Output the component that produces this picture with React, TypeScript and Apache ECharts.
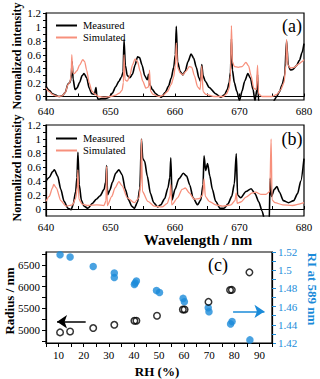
import React, { useEffect, useRef } from 'react';
import * as echarts from 'echarts';

// ---------- data ----------
const intensityLabels = [0, 0.2, 0.4, 0.6, 0.8, 1, 1.2];
const intensityTicks = [0, 0.1, 0.2, 0.3, 0.4, 0.5, 0.6, 0.7, 0.8, 0.9, 1, 1.1, 1.2];
const radiusLabels = [5000, 5500, 6000, 6500];
const radiusTicks = [4750, 5000, 5250, 5500, 5750, 6000, 6250, 6500, 6750];
const riLabels = [1.42, 1.44, 1.46, 1.48, 1.5, 1.52];
const riTicks = [1.42, 1.43, 1.44, 1.45, 1.46, 1.47, 1.48, 1.49, 1.5, 1.51, 1.52];

const measuredA: number[][] = [
  [640, 0.15], [640.5, 0.09], [641, 0.04], [641.5, 0.02], [642, 0.0], [642.5, 0.01], [643, 0.06],
  [643.4, 0.18], [643.7, 0.2], [643.9, 0.26], [644.05, 0.5], [644.2, 0.25], [644.5, 0.1], [644.8, 0.12],
  [645.2, 0.2], [645.6, 0.3], [645.9, 0.33], [646.3, 0.27], [646.7, 0.12], [647.1, 0.04], [647.5, 0.03],
  [647.75, 0.13], [647.9, 0.0], [648.1, -0.04], [648.6, -0.03], [649.2, -0.03], [649.8, -0.01], [650.3, 0.05],
  [650.8, 0.14], [651.3, 0.22], [651.7, 0.28], [651.95, 0.35], [652.1, 0.82], [652.3, 0.45], [652.6, 0.3],
  [653.0, 0.27], [653.4, 0.32], [653.8, 0.45], [654.2, 0.57], [654.5, 0.56], [654.9, 0.45], [655.3, 0.3],
  [655.7, 0.24], [655.9, 0.32], [656.1, 0.17], [656.5, 0.1], [657, 0.04], [657.5, 0.01], [657.9, -0.01],
  [658.5, 0.06], [659.0, 0.15], [659.4, 0.26], [659.8, 0.42], [660.05, 0.6], [660.2, 1.01], [660.4, 0.5],
  [660.8, 0.36], [661.2, 0.31], [661.6, 0.37], [662.0, 0.5], [662.5, 0.61], [662.9, 0.55], [663.3, 0.42],
  [663.7, 0.27], [663.95, 0.22], [664.15, 0.46], [664.35, 0.3], [664.7, 0.22], [665.3, 0.13], [666.3, 0.04],
  [667.1, -0.01], [667.7, 0.03], [668.1, 0.1], [668.4, 0.2], [668.6, 0.35], [668.75, 0.83], [668.9, 0.38],
  [669.2, 0.2], [669.6, 0.07], [670.0, -0.06], [670.4, 0.08], [670.8, 0.22], [671.3, 0.33], [671.7, 0.26],
  [672.1, 0.1], [672.4, -0.06], [672.7, 0.1], [672.8, 0.32], [672.95, -0.06], [673.5, -0.15], [674.5, -0.15],
  [675.2, -0.08], [675.7, -0.01], [676.2, 0.07], [676.6, 0.17], [677.0, 0.3], [677.3, 0.8], [677.55, 0.45],
  [677.9, 0.38], [678.3, 0.39], [678.8, 0.44], [679.3, 0.52], [679.7, 0.63], [680, 0.76],
];

const simulatedA: number[][] = [
  [640, 0.12], [640.5, 0.07], [641, 0.03], [641.5, 0.01], [642, 0.0], [642.5, 0.01], [643, 0.06],
  [643.4, 0.17], [643.7, 0.2], [643.9, 0.3], [644.0, 0.6], [644.15, 0.34], [644.4, 0.33], [644.8, 0.37],
  [645.2, 0.45], [645.7, 0.53], [646.0, 0.5], [646.3, 0.38], [646.7, 0.2], [647.1, 0.08], [647.6, 0.03],
  [648.2, 0.0], [649, -0.01], [650, 0.0], [650.8, 0.02], [651.4, 0.05], [651.8, 0.09], [652.0, 0.2],
  [652.1, 0.6], [652.25, 0.24], [652.6, 0.22], [653.0, 0.3], [653.4, 0.45], [653.8, 0.54], [654.2, 0.5],
  [654.6, 0.36], [655.0, 0.22], [655.5, 0.12], [655.9, 0.14], [656.05, 0.38], [656.2, 0.08], [656.6, 0.03],
  [657.5, 0.0], [658.2, 0.02], [658.8, 0.07], [659.4, 0.17], [659.8, 0.28], [660.05, 0.45], [660.2, 0.77],
  [660.4, 0.42], [660.8, 0.34], [661.2, 0.31], [661.7, 0.36], [662.2, 0.43], [662.6, 0.42], [663.0, 0.3],
  [663.5, 0.14], [663.9, 0.1], [664.15, 0.44], [664.35, 0.07], [664.8, 0.03], [666, 0.0], [667.5, 0.0],
  [668.0, 0.04], [668.4, 0.12], [668.6, 0.3], [668.75, 1.02], [668.9, 0.5], [669.2, 0.43], [669.8, 0.42],
  [670.4, 0.43], [671.0, 0.49], [671.4, 0.44], [671.8, 0.3], [672.2, 0.12], [672.6, 0.1], [672.8, 0.45],
  [672.95, 0.04], [673.5, 0.0], [675, 0.0], [675.8, 0.03], [676.4, 0.1], [676.9, 0.2], [677.2, 0.45],
  [677.3, 0.82], [677.5, 0.45], [677.9, 0.41], [678.5, 0.42], [679.2, 0.47], [679.7, 0.5], [680, 0.53],
];

const measuredB: number[][] = [
  [640, 0.4], [640.5, 0.45], [641.0, 0.53], [641.3, 0.56], [641.8, 0.47], [642.3, 0.28], [642.8, 0.11],
  [643.4, 0.01], [643.9, -0.01], [644.2, 0.06], [644.6, 0.25], [644.8, 0.45], [644.95, 0.81], [645.15, 0.35],
  [645.5, 0.12], [645.9, 0.04], [646.5, 0.01], [647.2, 0.08], [647.8, 0.14], [648.4, 0.19], [649.0, 0.28],
  [649.25, 0.38], [649.4, 0.62], [649.55, 0.2], [649.9, 0.27], [650.3, 0.38], [650.8, 0.51], [651.3, 0.56],
  [651.8, 0.49], [652.3, 0.28], [652.8, 0.13], [653.3, 0.04], [653.7, 0.01], [654.2, 0.1], [654.55, 0.3],
  [654.8, 1.0], [655.0, 0.72], [655.3, 0.68], [655.7, 0.47], [656.2, 0.22], [656.7, 0.09], [657.3, 0.03],
  [657.8, 0.06], [658.4, 0.15], [658.9, 0.3], [659.2, 0.45], [659.35, 0.73], [659.55, 0.13], [660.0, 0.28],
  [660.6, 0.43], [661.3, 0.51], [661.8, 0.47], [662.3, 0.34], [662.8, 0.16], [663.5, 0.06], [664.0, 0.13],
  [664.35, 0.35], [664.5, 0.76], [664.75, 0.55], [665.05, 0.65], [665.4, 0.47], [665.8, 0.28], [666.3, 0.11],
  [667.0, 0.01], [667.6, 0.01], [668.2, 0.07], [668.8, 0.18], [669.2, 0.36], [669.5, 0.79], [669.7, 0.2],
  [670.2, 0.16], [671.0, 0.25], [671.8, 0.29], [672.4, 0.22], [673.0, 0.1], [673.5, -0.03], [674.0, -0.2],
  [674.6, -0.2], [674.75, 0.44], [674.95, 0.18], [675.4, 0.28], [675.8, 0.32], [676.2, 0.24], [676.8, 0.12],
  [677.6, 0.09], [678.4, 0.12], [679.0, 0.22], [679.5, 0.4], [680, 0.72],
];

const simulatedB: number[][] = [
  [640, 0.11], [640.5, 0.18], [641.0, 0.3], [641.2, 0.35], [641.6, 0.3], [642.3, 0.12], [643.1, 0.04],
  [644.1, 0.06], [644.6, 0.15], [644.85, 0.3], [644.95, 0.56], [645.1, 0.14], [645.6, 0.07], [646.5, 0.05],
  [647.9, 0.06], [649.0, 0.05], [649.3, 0.12], [649.4, 0.61], [649.5, 0.05], [650.2, 0.18], [650.7, 0.3],
  [651.3, 0.39], [651.8, 0.33], [652.6, 0.16], [653.7, 0.09], [654.4, 0.16], [654.7, 0.35], [654.8, 1.0],
  [654.95, 0.25], [655.8, 0.11], [656.8, 0.04], [658.0, 0.03], [658.8, 0.08], [659.2, 0.18], [659.35, 0.35],
  [659.5, 0.06], [660.4, 0.16], [661.1, 0.28], [661.6, 0.3], [662.2, 0.23], [663.0, 0.14], [663.8, 0.15],
  [664.3, 0.2], [664.5, 0.43], [664.7, 0.18], [665.3, 0.11], [666.3, 0.06], [667.4, 0.04], [668.7, 0.06],
  [669.3, 0.12], [669.5, 0.23], [669.65, 0.08], [670.2, 0.1], [671.0, 0.17], [672.0, 0.23], [672.5, 0.24],
  [673.3, 0.21], [674.1, 0.21], [674.7, 0.25], [674.9, 1.0], [675.05, 0.13], [675.5, 0.09], [676.7, 0.06],
  [678.2, 0.05], [680, 0.09],
];

const rhRadius = [10.6, 14.6, 23.8, 32.2, 40.2, 41, 49.2, 59.5, 60.2, 69.7, 78.3, 79, 86];
const radius = [4945, 4965, 5045, 5120, 5212, 5215, 5328, 5472, 5475, 5649, 5922, 5926, 6330];
const rhRI = [10.6, 14.6, 23.8, 32.2, 32.2, 40.2, 40.5, 41, 49, 50.2, 59.6, 60.1, 69.6, 69.9, 78.5, 79.1, 86.2];
const ri = [1.517, 1.5145, 1.504, 1.497, 1.492, 1.4842, 1.486, 1.4882, 1.4776, 1.4754, 1.469, 1.4654,
  1.4588, 1.4543, 1.441, 1.4436, 1.4234];

// ---------- style ----------
const FONT = 'Liberation Serif';
const RED = '#F7907C';
const BLUE = '#1B8BD9';

function wavelengthAxis(gridIndex: number) {
  return {
    type: 'value', gridIndex, min: 640, max: 680, interval: 5,
    axisLine: { show: true, lineStyle: { color: '#000', width: 1.2 } },
    axisTick: { show: true, inside: true, length: 3, lineStyle: { color: '#000' } },
    axisLabel: {
      fontFamily: FONT, fontSize: 11, color: '#000', margin: 5,
      formatter: (v: number) => (Math.round(v) % 10 === 0 ? String(Math.round(v)) : ''),
    },
    splitLine: { show: false },
  };
}

function intensityAxis(gridIndex: number, min: number) {
  return {
    type: 'value', gridIndex, min, max: 1.2,
    axisLine: { show: true, lineStyle: { color: '#000', width: 1.2 } },
    axisTick: { show: true, length: 3, customValues: intensityTicks, lineStyle: { color: '#000' } },
    axisLabel: {
      fontFamily: FONT, fontSize: 11, color: '#000', margin: 5, customValues: intensityLabels,
      formatter: (v: number) => String(+v.toFixed(2)),
    },
    splitLine: { show: false },
  };
}

const gridStyle = { show: true, borderColor: '#000', borderWidth: 1.2, backgroundColor: 'transparent' };

function lineSeries(name: string, data: number[][], idx: number, color: string, width: number) {
  return {
    name, type: 'line', data, xAxisIndex: idx, yAxisIndex: idx, showSymbol: false, symbol: 'none',
    smooth: 0.25, smoothMonotone: 'x', clip: true,
    lineStyle: { color, width }, itemStyle: { color },
  };
}

function legendAt(top: number) {
  return {
    data: ['Measured', 'Simulated'], orient: 'vertical', left: 51, top, itemWidth: 21, itemHeight: 2,
    itemGap: 1, icon: 'rect', selectedMode: false,
    textStyle: { fontFamily: FONT, fontSize: 10.5, color: '#000', padding: [0, 0, 0, 1] },
  };
}

function title(text: string, x: number, y: number, size: number, rotation = 0, color = '#000', weight = 'bold') {
  return {
    type: 'text', x, y, rotation, silent: true,
    style: {
      text, fill: color, fontFamily: FONT, fontSize: size, fontWeight: weight,
      textAlign: 'center', textVerticalAlign: 'middle',
    },
  };
}

export default function App() {
  const ref = useRef<HTMLDivElement>(null);
  useEffect(() => {
    if (!ref.current) return;
    const chart = echarts.init(ref.current, null, { renderer: 'svg' });
    chart.setOption({
      animation: false,
      backgroundColor: '#fff',
      textStyle: { fontFamily: FONT },
      grid: [
        { left: 46, top: 13, width: 258, height: 87, ...gridStyle },
        { left: 46, top: 125, width: 258, height: 91, ...gridStyle },
        { left: 46, top: 252, width: 226, height: 91, ...gridStyle },
      ],
      legend: [legendAt(15), legendAt(128)],
      xAxis: [
        wavelengthAxis(0),
        wavelengthAxis(1),
        {
          type: 'value', gridIndex: 2, min: 5, max: 95, interval: 5,
          axisLine: { show: true, lineStyle: { color: '#000', width: 1.2 } },
          axisTick: { show: true, length: 4, lineStyle: { color: '#000' } },
          axisLabel: {
            fontFamily: FONT, fontSize: 11, color: '#000', margin: 6,
            formatter: (v: number) => (Math.round(v) % 10 === 0 ? String(Math.round(v)) : ''),
          },
          splitLine: { show: false },
        },
      ],
      yAxis: [
        intensityAxis(0, -0.05),
        intensityAxis(1, -0.1),
        {
          type: 'value', gridIndex: 2, min: 4700, max: 6800,
          axisLine: { show: true, lineStyle: { color: '#000', width: 1.2 } },
          axisTick: { show: true, length: 4, customValues: radiusTicks, lineStyle: { color: '#000' } },
          axisLabel: {
            fontFamily: FONT, fontSize: 11, color: '#000', margin: 6, customValues: radiusLabels,
            formatter: (v: number) => String(Math.round(v)),
          },
          splitLine: { show: false },
        },
        {
          type: 'value', gridIndex: 2, position: 'right', min: 1.42, max: 1.52,
          axisLine: { show: true, lineStyle: { color: '#000', width: 1.2 } },
          axisTick: { show: true, length: 4, customValues: riTicks, lineStyle: { color: BLUE } },
          axisLabel: {
            fontFamily: FONT, fontSize: 11, color: BLUE, margin: 6, customValues: riLabels,
            formatter: (v: number) => String(+v.toFixed(2)),
          },
          splitLine: { show: false },
        },
      ],
      series: [
        lineSeries('Measured', measuredA, 0, '#000', 1.6),
        lineSeries('Simulated', simulatedA, 0, RED, 1.3),
        lineSeries('Measured', measuredB, 1, '#000', 1.6),
        lineSeries('Simulated', simulatedB, 1, RED, 1.3),
        {
          name: 'RI', type: 'scatter', xAxisIndex: 2, yAxisIndex: 3,
          data: rhRI.map((x, i) => [x, ri[i]]), symbol: 'circle', symbolSize: 7.5,
          itemStyle: { color: BLUE },
          markLine: {
            silent: true, symbol: ['none', 'arrow'], symbolSize: 10, label: { show: false },
            lineStyle: { color: BLUE, width: 1.5, type: 'solid' },
            data: [[{ coord: [79.5, 1.4547] }, { coord: [92, 1.4547] }]],
          },
        },
        {
          name: 'Radius', type: 'scatter', xAxisIndex: 2, yAxisIndex: 2,
          data: rhRadius.map((x, i) => [x, radius[i]]), symbol: 'circle', symbolSize: 6.5,
          itemStyle: { color: 'rgba(255,255,255,0)', borderColor: '#000', borderWidth: 1.5 },
          markLine: {
            silent: true, symbol: ['none', 'arrow'], symbolSize: 10, label: { show: false },
            lineStyle: { color: '#000', width: 1.5, type: 'solid' },
            data: [[{ coord: [20.8, 5190] }, { coord: [9.4, 5190] }]],
          },
        },
      ],
      graphic: [
        title('Normalized intensity', 17, 56, 12, Math.PI / 2),
        title('Normalized intensity', 17, 168, 12, Math.PI / 2),
        title('Wavelength / nm', 198, 240, 15),
        title('Radius / nm', 9, 301, 13, Math.PI / 2),
        title('RI at 589 nm', 312, 289, 13, -Math.PI / 2, BLUE),
        title('RH (%)', 157, 371, 13),
        title('(a)', 292, 26, 18, 0, '#000', 'normal'),
        title('(b)', 292, 139, 18, 0, '#000', 'normal'),
        title('(c)', 218, 265, 18, 0, '#000', 'normal'),
      ],
    });
    return () => chart.dispose();
  }, []);
  return <div ref={ref} style={{ position: 'fixed', left: 0, top: 0, width: 320, height: 379 }} />;
}
